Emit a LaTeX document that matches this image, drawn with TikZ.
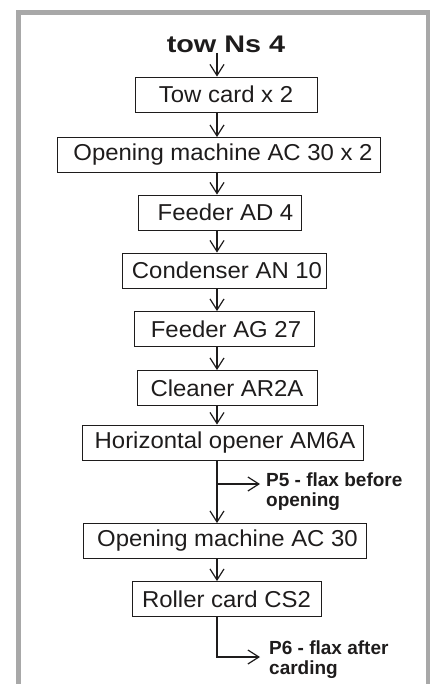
\documentclass[tikz,border=0pt]{standalone}
\usepackage{fontspec}
\setmainfont{Liberation Sans}[FakeStretch=1.04]
\newfontfamily\titlefont{Liberation Sans}[FakeStretch=1.2]
\newfontfamily\labfont{Liberation Sans}
\usetikzlibrary{arrows.meta}
\definecolor{framegray}{RGB}{168,168,168}
\definecolor{ink}{RGB}{30,28,28}
\tikzset{
  box/.style={draw=ink, line width=0.9pt, inner sep=0pt, minimum height=35pt,
    font=\fontsize{23}{26}\selectfont, text=ink},
  flow/.style={draw=ink, line width=1.2pt, -{Straight Barb[length=11pt,width=14pt]}},
  lab/.style={font=\labfont\bfseries\fontsize{19}{20.5}\selectfont, align=left,
    inner sep=0pt, text=ink, anchor=north west},
  ttl/.style={font=\titlefont\bfseries\fontsize{24}{27}\selectfont, inner sep=0pt,
    text=ink, anchor=base}
}
\begin{document}
\begin{tikzpicture}[x=1pt,y=-1pt]
\useasboundingbox (0,0) rectangle (430,684);
% frame
\draw[framegray, line width=5pt, line cap=butt, line join=miter]
  (18.5,684) -- (18.5,12.5) -- (428,12.5) -- (428,684);
% trunk
\coordinate (t) at (217,0);
% nodes
\node[ttl] (title) at (226,53) {tow Ns 4};
\node[box, minimum width=182pt] (b1) at (226,94.5) {Tow card x 2};
\node[box, minimum width=323pt] (b2) at (218.5,155) {\hspace*{9pt}Opening machine AC 30 x 2};
\node[box, minimum width=163pt] (b3) at (219.5,212.5) {\hspace*{12pt}Feeder AD 4};
\node[box, minimum width=204pt] (b4) at (224,270.5) {\hspace*{6pt}Condenser AN 10};
\node[box, minimum width=180pt] (b5) at (224,329) {\hspace*{4pt}Feeder AG 27};
\node[box, minimum width=180pt] (b6) at (227,388) {Cleaner AR2A};
\node[box, minimum width=281pt] (b7) at (222.5,442.5) {\hspace*{5pt}Horizontal opener AM6A};
\node[box, minimum width=283pt] (b8) at (224.5,541) {\hspace*{6pt}Opening machine AC 30};
\node[box, minimum width=189pt] (b9) at (226.5,599) {Roller card CS2};
\node[lab] (l5) at (266,472.3) {P5 - flax before\\opening};
\node[lab] (l6) at (269,640.5) {P6 - flax after\\carding};
% connectors
\draw[flow] (title.base -| t) -- (b1.north -| t);
\draw[flow] (b1.south -| t) -- (b2.north -| t);
\draw[flow] (b2.south -| t) -- (b3.north -| t);
\draw[flow] (b3.south -| t) -- (b4.north -| t);
\draw[flow] (b4.south -| t) -- (b5.north -| t);
\draw[flow] (b5.south -| t) -- (b6.north -| t);
\draw[flow] (b6.south -| t) -- (b7.north -| t);
\draw[flow] (b7.south -| t) -- (b8.north -| t);
\draw[flow] (b8.south -| t) -- (b9.north -| t);
\coordinate (p5) at (217,484);
\coordinate (p5e) at (260,484);
\draw[flow] (p5) -- (p5e);
\coordinate (p6) at (217,657);
\coordinate (p6e) at (260,657);
\draw[flow] (b9.south -| t) -- (p6) -- (p6e);
\end{tikzpicture}
\end{document}
